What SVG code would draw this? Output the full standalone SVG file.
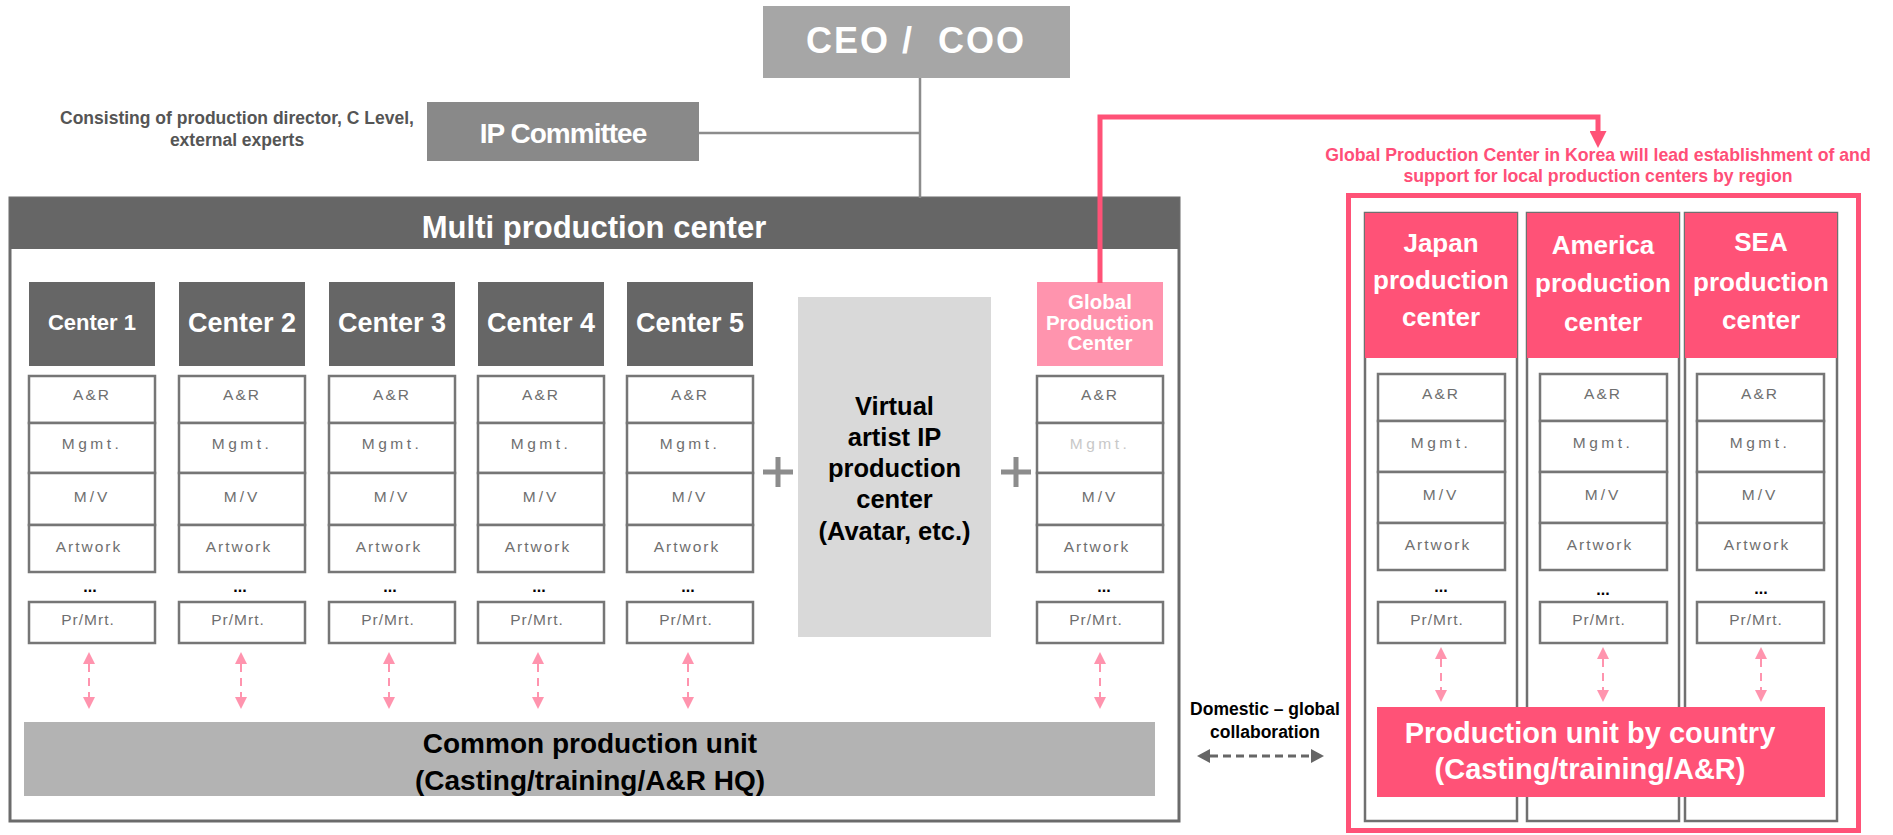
<svg xmlns="http://www.w3.org/2000/svg" width="1893" height="835" viewBox="0 0 1893 835">
<style>
text{font-family:"Liberation Sans",Arial,sans-serif;}
.b{font-weight:bold;}
.cell{fill:#fff;stroke:#767676;stroke-width:2.5;}
.lbl{font-size:15.5px;fill:#6f6f6f;text-anchor:middle;}
.dots{font-size:16px;font-weight:bold;fill:#000;text-anchor:middle;}
.hdr{fill:#666;}
.wt{fill:#fff;font-weight:bold;text-anchor:middle;}
.bk{fill:#000;font-weight:bold;text-anchor:middle;}
.col{fill:#fff;stroke:#707070;stroke-width:2.5;}
.red{fill:#ff5277;}
.pk{stroke:#ff94ae;stroke-width:2;stroke-dasharray:8 6;fill:none;marker-start:url(#pkh);marker-end:url(#pkh);}
</style>
<defs>
<marker id="pkh" viewBox="0 0 12 12" refX="0" refY="6" markerWidth="12" markerHeight="12" markerUnits="userSpaceOnUse" orient="auto-start-reverse"><path d="M0,0 L12,6 L0,12 z" fill="#ff94ae"/></marker>
<marker id="gyh" viewBox="0 0 13 14" refX="0" refY="7" markerWidth="13" markerHeight="14" markerUnits="userSpaceOnUse" orient="auto-start-reverse"><path d="M0,0 L13,7 L0,14 z" fill="#666"/></marker>
<marker id="rdh" viewBox="0 0 17 17" refX="0" refY="8.5" markerWidth="17" markerHeight="17" markerUnits="userSpaceOnUse" orient="auto"><path d="M0,0 L17,8.5 L0,17 z" fill="#ff5277"/></marker>
</defs>

<g id="ceo">
<rect x="763" y="6" width="307" height="72" fill="#a6a6a6"/>
<text x="916" y="53" class="wt" font-size="36" letter-spacing="2">CEO /&#160; COO</text>
</g>

<g id="ip-committee">
<rect x="427" y="102" width="272" height="59" fill="#898989"/>
<text x="563" y="143" class="wt" font-size="28" letter-spacing="-1">IP Committee</text>
<text x="237" y="124" class="b" font-size="17.5" fill="#555" text-anchor="middle">Consisting of production director, C Level,</text>
<text x="237" y="146" class="b" font-size="17.5" fill="#555" text-anchor="middle">external experts</text>
</g>

<g id="multi-production-center">
<rect x="10" y="198" width="1169" height="623" fill="#fff" stroke="#6b6b6b" stroke-width="3"/>
<rect x="10" y="198" width="1169" height="51" class="hdr"/>
<text x="594" y="238" class="wt" font-size="31">Multi production center</text>
</g>

<g id="center1">
<rect x="29" y="282" width="126" height="84" class="hdr"/>
<text x="92" y="330" class="wt" font-size="22">Center 1</text>
<rect x="29" y="376" width="126" height="47" class="cell"/><text x="92" y="400" class="lbl" letter-spacing="2">A&amp;R</text>
<rect x="29" y="423" width="126" height="50" class="cell"/><text x="92" y="449" class="lbl" letter-spacing="3.5">Mgmt.</text>
<rect x="29" y="473" width="126" height="52" class="cell"/><text x="92" y="502" class="lbl" letter-spacing="3">M/V</text>
<rect x="29" y="525" width="126" height="47" class="cell"/><text x="89" y="552" class="lbl" letter-spacing="2">Artwork</text>
<text x="90" y="592" class="dots">...</text>
<rect x="29" y="602" width="126" height="41" class="cell"/><text x="88" y="625" class="lbl" letter-spacing="1">Pr/Mrt.</text>
</g>

<g id="center2">
<rect x="179" y="282" width="126" height="84" class="hdr"/>
<text x="242" y="332" class="wt" font-size="27">Center 2</text>
<rect x="179" y="376" width="126" height="47" class="cell"/><text x="242" y="400" class="lbl" letter-spacing="2">A&amp;R</text>
<rect x="179" y="423" width="126" height="50" class="cell"/><text x="242" y="449" class="lbl" letter-spacing="3.5">Mgmt.</text>
<rect x="179" y="473" width="126" height="52" class="cell"/><text x="242" y="502" class="lbl" letter-spacing="3">M/V</text>
<rect x="179" y="525" width="126" height="47" class="cell"/><text x="239" y="552" class="lbl" letter-spacing="2">Artwork</text>
<text x="240" y="592" class="dots">...</text>
<rect x="179" y="602" width="126" height="41" class="cell"/><text x="238" y="625" class="lbl" letter-spacing="1">Pr/Mrt.</text>
</g>

<g id="center3">
<rect x="329" y="282" width="126" height="84" class="hdr"/>
<text x="392" y="332" class="wt" font-size="27">Center 3</text>
<rect x="329" y="376" width="126" height="47" class="cell"/><text x="392" y="400" class="lbl" letter-spacing="2">A&amp;R</text>
<rect x="329" y="423" width="126" height="50" class="cell"/><text x="392" y="449" class="lbl" letter-spacing="3.5">Mgmt.</text>
<rect x="329" y="473" width="126" height="52" class="cell"/><text x="392" y="502" class="lbl" letter-spacing="3">M/V</text>
<rect x="329" y="525" width="126" height="47" class="cell"/><text x="389" y="552" class="lbl" letter-spacing="2">Artwork</text>
<text x="390" y="592" class="dots">...</text>
<rect x="329" y="602" width="126" height="41" class="cell"/><text x="388" y="625" class="lbl" letter-spacing="1">Pr/Mrt.</text>
</g>

<g id="center4">
<rect x="478" y="282" width="126" height="84" class="hdr"/>
<text x="541" y="332" class="wt" font-size="27">Center 4</text>
<rect x="478" y="376" width="126" height="47" class="cell"/><text x="541" y="400" class="lbl" letter-spacing="2">A&amp;R</text>
<rect x="478" y="423" width="126" height="50" class="cell"/><text x="541" y="449" class="lbl" letter-spacing="3.5">Mgmt.</text>
<rect x="478" y="473" width="126" height="52" class="cell"/><text x="541" y="502" class="lbl" letter-spacing="3">M/V</text>
<rect x="478" y="525" width="126" height="47" class="cell"/><text x="538" y="552" class="lbl" letter-spacing="2">Artwork</text>
<text x="539" y="592" class="dots">...</text>
<rect x="478" y="602" width="126" height="41" class="cell"/><text x="537" y="625" class="lbl" letter-spacing="1">Pr/Mrt.</text>
</g>

<g id="center5">
<rect x="627" y="282" width="126" height="84" class="hdr"/>
<text x="690" y="332" class="wt" font-size="27">Center 5</text>
<rect x="627" y="376" width="126" height="47" class="cell"/><text x="690" y="400" class="lbl" letter-spacing="2">A&amp;R</text>
<rect x="627" y="423" width="126" height="50" class="cell"/><text x="690" y="449" class="lbl" letter-spacing="3.5">Mgmt.</text>
<rect x="627" y="473" width="126" height="52" class="cell"/><text x="690" y="502" class="lbl" letter-spacing="3">M/V</text>
<rect x="627" y="525" width="126" height="47" class="cell"/><text x="687" y="552" class="lbl" letter-spacing="2">Artwork</text>
<text x="688" y="592" class="dots">...</text>
<rect x="627" y="602" width="126" height="41" class="cell"/><text x="686" y="625" class="lbl" letter-spacing="1">Pr/Mrt.</text>
</g>

<g id="plus-signs" fill="#8c8c8c">
<rect x="763" y="469.5" width="30" height="5"/><rect x="775.5" y="457" width="5" height="30"/>
<rect x="1001" y="469.5" width="30" height="5"/><rect x="1013.5" y="457" width="5" height="30"/>
</g>

<g id="virtual-artist">
<rect x="798" y="297" width="193" height="340" fill="#d9d9d9"/>
<text class="bk" font-size="25.5"><tspan x="894.5" y="415">Virtual</tspan><tspan x="894.5" y="446">artist IP</tspan><tspan x="894.5" y="477">production</tspan><tspan x="894.5" y="508">center</tspan><tspan x="894.5" y="540">(Avatar, etc.)</tspan></text>
</g>

<g id="global-production-center">
<rect x="1037" y="282" width="126" height="84" fill="#ff94ae"/>
<text class="wt" font-size="20.5"><tspan x="1100" y="309">Global</tspan><tspan x="1100" y="330">Production</tspan><tspan x="1100" y="350">Center</tspan></text>
<rect x="1037" y="376" width="126" height="47" class="cell"/><text x="1100" y="400" class="lbl" letter-spacing="2">A&amp;R</text>
<rect x="1037" y="423" width="126" height="50" class="cell"/><text x="1100" y="449" class="lbl" letter-spacing="3.5" style="fill:#c8c8c8">Mgmt.</text>
<rect x="1037" y="473" width="126" height="52" class="cell"/><text x="1100" y="502" class="lbl" letter-spacing="3">M/V</text>
<rect x="1037" y="525" width="126" height="47" class="cell"/><text x="1097" y="552" class="lbl" letter-spacing="2">Artwork</text>
<text x="1104" y="592" class="dots">...</text>
<rect x="1037" y="602" width="126" height="41" class="cell"/><text x="1096" y="625" class="lbl" letter-spacing="1">Pr/Mrt.</text>
</g>

<g id="common-production-unit">
<rect x="24" y="722" width="1131" height="74" fill="#b3b3b3"/>
<text class="bk" font-size="28"><tspan x="590" y="753">Common production unit</tspan><tspan x="590" y="790">(Casting/training/A&amp;R HQ)</tspan></text>
</g>

<g id="domestic-global-label">
<text class="bk" font-size="17.5"><tspan x="1265" y="715">Domestic  – global</tspan><tspan x="1265" y="738">collaboration</tspan></text>
</g>

<g id="regional-centers">
<rect x="1348.5" y="195.5" width="510" height="635" fill="none" stroke="#ff5277" stroke-width="5"/>
<text class="b" font-size="17.7" fill="#ff4f78" text-anchor="middle"><tspan x="1598" y="161">Global Production Center in Korea will lead establishment of and</tspan><tspan x="1598" y="182">support for local production centers by region</tspan></text>
</g>

<g id="japan-center">
<rect x="1365" y="213" width="152" height="608" class="col"/>
<rect x="1365" y="213" width="152" height="145" class="red"/>
<text class="wt" font-size="26"><tspan x="1441" y="252">Japan</tspan><tspan x="1441" y="289">production</tspan><tspan x="1441" y="326">center</tspan></text>
<rect x="1378" y="374" width="127" height="47" class="cell"/><text x="1441" y="399" class="lbl" letter-spacing="2">A&amp;R</text>
<rect x="1378" y="421" width="127" height="51" class="cell"/><text x="1441" y="448" class="lbl" letter-spacing="3.5">Mgmt.</text>
<rect x="1378" y="472" width="127" height="51" class="cell"/><text x="1441" y="500" class="lbl" letter-spacing="3">M/V</text>
<rect x="1378" y="523" width="127" height="47" class="cell"/><text x="1438" y="550" class="lbl" letter-spacing="2">Artwork</text>
<text x="1441" y="592" class="dots">...</text>
<rect x="1378" y="602" width="127" height="41" class="cell"/><text x="1437" y="625" class="lbl" letter-spacing="1">Pr/Mrt.</text>
</g>

<g id="america-center">
<rect x="1527" y="213" width="152" height="608" class="col"/>
<rect x="1527" y="213" width="152" height="145" class="red"/>
<text class="wt" font-size="26"><tspan x="1603" y="254">America</tspan><tspan x="1603" y="292">production</tspan><tspan x="1603" y="331">center</tspan></text>
<rect x="1540" y="374" width="127" height="47" class="cell"/><text x="1603" y="399" class="lbl" letter-spacing="2">A&amp;R</text>
<rect x="1540" y="421" width="127" height="51" class="cell"/><text x="1603" y="448" class="lbl" letter-spacing="3.5">Mgmt.</text>
<rect x="1540" y="472" width="127" height="51" class="cell"/><text x="1603" y="500" class="lbl" letter-spacing="3">M/V</text>
<rect x="1540" y="523" width="127" height="47" class="cell"/><text x="1600" y="550" class="lbl" letter-spacing="2">Artwork</text>
<text x="1603" y="595" class="dots">...</text>
<rect x="1540" y="602" width="127" height="41" class="cell"/><text x="1599" y="625" class="lbl" letter-spacing="1">Pr/Mrt.</text>
</g>

<g id="sea-center">
<rect x="1685" y="213" width="152" height="608" class="col"/>
<rect x="1685" y="213" width="152" height="145" class="red"/>
<text class="wt" font-size="26"><tspan x="1761" y="251">SEA</tspan><tspan x="1761" y="291">production</tspan><tspan x="1761" y="329">center</tspan></text>
<rect x="1697" y="374" width="127" height="47" class="cell"/><text x="1760" y="399" class="lbl" letter-spacing="2">A&amp;R</text>
<rect x="1697" y="421" width="127" height="51" class="cell"/><text x="1760" y="448" class="lbl" letter-spacing="3.5">Mgmt.</text>
<rect x="1697" y="472" width="127" height="51" class="cell"/><text x="1760" y="500" class="lbl" letter-spacing="3">M/V</text>
<rect x="1697" y="523" width="127" height="47" class="cell"/><text x="1757" y="550" class="lbl" letter-spacing="2">Artwork</text>
<text x="1761" y="594" class="dots">...</text>
<rect x="1697" y="602" width="127" height="41" class="cell"/><text x="1756" y="625" class="lbl" letter-spacing="1">Pr/Mrt.</text>
</g>

<g id="production-unit-by-country">
<rect x="1377" y="707" width="448" height="90" class="red"/>
<text class="wt" font-size="29"><tspan x="1590" y="743">Production unit by country</tspan><tspan x="1590" y="779">(Casting/training/A&amp;R)</tspan></text>
</g>

<g id="connectors">
<path d="M920,78 V198 M699,133 H920" stroke="#8c8c8c" stroke-width="2.5" fill="none"/>
<path d="M1100,283 V117 H1598 V131" stroke="#ff5277" stroke-width="5" fill="none" stroke-linejoin="miter" marker-end="url(#rdh)"/>
<line x1="89" y1="664" x2="89" y2="697" class="pk"/>
<line x1="241" y1="664" x2="241" y2="697" class="pk"/>
<line x1="389" y1="664" x2="389" y2="697" class="pk"/>
<line x1="538" y1="664" x2="538" y2="697" class="pk"/>
<line x1="688" y1="664" x2="688" y2="697" class="pk"/>
<line x1="1100" y1="664" x2="1100" y2="697" class="pk"/>
<line x1="1441" y1="659" x2="1441" y2="690" class="pk"/>
<line x1="1603" y1="659" x2="1603" y2="690" class="pk"/>
<line x1="1761" y1="659" x2="1761" y2="690" class="pk"/>
<line x1="1210" y1="756" x2="1311" y2="756" stroke="#666" stroke-width="3" stroke-dasharray="8 5" marker-start="url(#gyh)" marker-end="url(#gyh)"/>
</g>
</svg>
